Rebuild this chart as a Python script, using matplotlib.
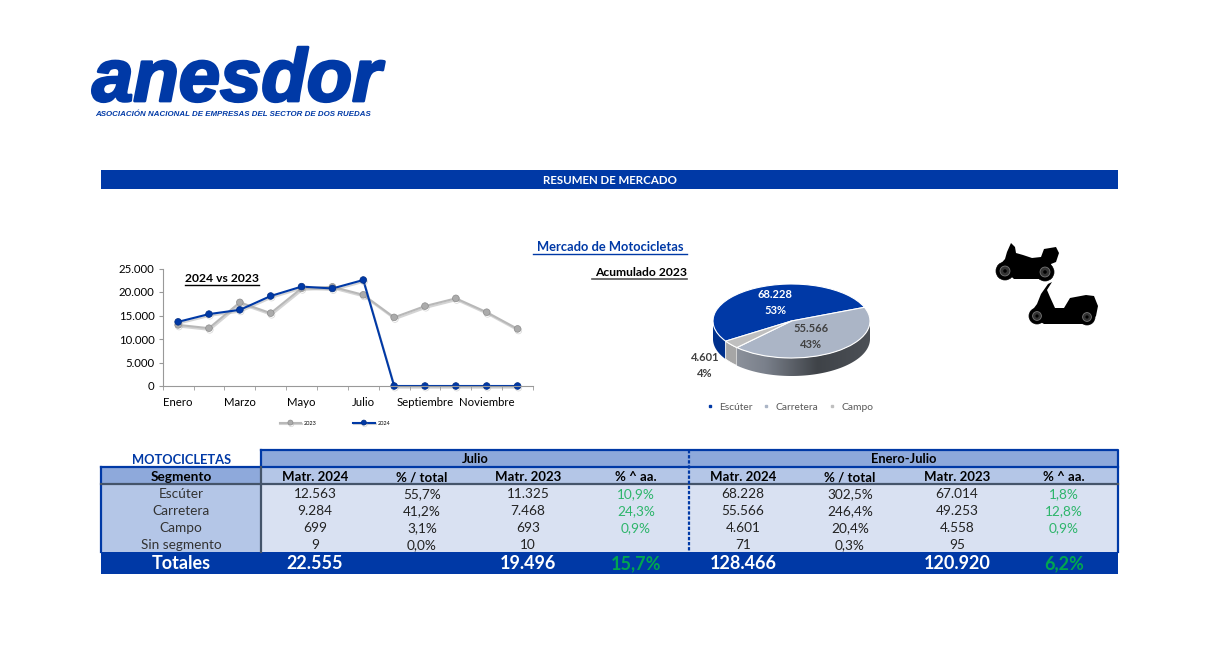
import numpy as np
import matplotlib
matplotlib.use("Agg")
import matplotlib.pyplot as plt
import matplotlib.patheffects as pe
from matplotlib.colors import LinearSegmentedColormap
from matplotlib.patches import Rectangle, Polygon, Circle
from matplotlib.lines import Line2D

plt.rcParams['font.family'] = ['Lato', 'DejaVu Sans']

# datos
meses = ['Enero', 'Febrero', 'Marzo', 'Abril', 'Mayo', 'Junio', 'Julio', 'Agosto',
         'Septiembre', 'Octubre', 'Noviembre', 'Diciembre']
v2023 = [13000, 12300, 17800, 15500, 20800, 21100, 19400, 14600, 17000, 18650, 15700, 12150]
v2024 = [13650, 15300, 16200, 19150, 21150, 20750, 22555, 0, 0, 0, 0, 0]
yticks = [0, 5000, 10000, 15000, 20000, 25000]

segmentos = ['Escúter', 'Carretera', 'Campo']
acumulado = [68228, 55566, 4601]
etiquetas_pie = ['68.228\n53%', '55.566\n43%', '4.601\n4%']

filas = ['Escúter', 'Carretera', 'Campo', 'Sin segmento']
cabecera = ['Matr. 2024', '% / total', 'Matr. 2023', '% ^ aa.'] * 2
mes_m24 = ['12.563', '9.284', '699', '9']
mes_pct = ['55,7%', '41,2%', '3,1%', '0,0%']
mes_m23 = ['11.325', '7.468', '693', '10']
mes_var = ['10,9%', '24,3%', '0,9%', '']
acu_m24 = ['68.228', '55.566', '4.601', '71']
acu_pct = ['302,5%', '246,4%', '20,4%', '0,3%']
acu_m23 = ['67.014', '49.253', '4.558', '95']
acu_var = ['1,8%', '12,8%', '0,9%', '']
totales = ['22.555', '', '19.496', '15,7%', '128.466', '', '120.920', '6,2%']

AZUL = '#0039A6'
W, H = 1225, 646
fig = plt.figure(figsize=(W / 100, H / 100), dpi=100)


def caja(x0, y0, x1, y1):
    return [x0 / W, 1 - y1 / H, (x1 - x0) / W, (y1 - y0) / H]


# lienzo en pixeles
bg = fig.add_axes([0, 0, 1, 1])
bg.set_xlim(0, W)
bg.set_ylim(H, 0)
bg.axis('off')

# logo
bg.text(92, 101, 'anesdor', fontsize=53.5, family='Liberation Sans', weight='bold', style='italic',
        color=AZUL, va='baseline', ha='left',
        path_effects=[pe.withStroke(linewidth=2, foreground=AZUL)])
bg.text(95, 114, 'ASOCIACIÓN NACIONAL DE EMPRESAS DEL SECTOR DE DOS RUEDAS', fontsize=5.7,
        family='Liberation Sans', weight='bold', style='italic', color=AZUL, va='center')

# banda titulo
bg.add_patch(Rectangle((101, 170), 1017, 19, color=AZUL, lw=0))
bg.text(610, 180.5, 'RESUMEN DE MERCADO', color='white', weight='bold', fontsize=8.3, ha='center', va='center')

# titulos
bg.text(610, 247, 'Mercado de Motocicletas', color=AZUL, weight='bold', fontsize=9.3, ha='center', va='center')
bg.plot([533, 687], [253.5, 253.5], color=AZUL, lw=1)
bg.text(687, 272, 'Acumulado 2023', color='black', weight='bold', fontsize=8.7, ha='right', va='center')
bg.plot([592, 687], [278.5, 278.5], color='#555555', lw=1.2)
bg.text(185, 279, '2024 vs 2023', color='black', weight='bold', fontsize=8.7, va='center', zorder=5)
bg.plot([185, 259], [285, 285], color='black', lw=1, zorder=5)

# evolucion mensual
ax = fig.add_axes(caja(162.7, 268.5, 533, 386))
ax.patch.set_alpha(0)
x = np.arange(len(meses))
sombra = [pe.SimpleLineShadow(offset=(0.6, -1.2), shadow_color='#AAAAAA', alpha=0.5), pe.Normal()]
ax.plot(x, v2023, color='#B8B8B8', lw=1.5, marker='o', ms=4.8, mfc='#ABABAB', mec='#8C8C8C', mew=0.5,
        label='2023', path_effects=sombra)
ax.plot(x, v2024, color=AZUL, lw=1.5, marker='o', ms=4.8, mfc=AZUL, mec='#002C80', mew=0.5,
        label='2024', clip_on=False, path_effects=sombra)
ax.set_xlim(-0.5, 11.5)
ax.set_ylim(0, 25000)
ax.set_yticks(yticks)
ax.set_yticklabels([f'{v:,}'.replace(',', '.') for v in yticks], fontsize=8.2)
ax.set_xticks(x[::2])
ax.set_xticklabels(meses[::2], fontsize=8.2)
ax.set_xticks(np.arange(-0.5, 12), minor=True)
ax.tick_params(axis='x', which='major', length=0, pad=8)
ax.tick_params(axis='x', which='minor', length=3, color='#999999')
ax.tick_params(axis='y', length=3, color='#999999', pad=3)
for s in ['top', 'right']:
    ax.spines[s].set_visible(False)
for s in ['left', 'bottom']:
    ax.spines[s].set_color('#999999')
ax.legend(loc='center', bbox_to_anchor=(0.465, -0.315), ncol=2, frameon=False, fontsize=4,
          handlelength=3.9, columnspacing=6.5, handletextpad=0.5, markerscale=0.75)

# tarta en falsa 3D
cx, cy, rx, ry, fondo = 791.5, 321, 78.5, 37, 18
pa = fig.add_axes(caja(cx - 1.3 * rx, cy - 1.3 * ry, cx + 1.3 * rx, cy + 1.3 * ry + fondo))
colores = [AZUL, '#ABB5C6', '#BFBFBF']
inicio = 213
# el sentido es horario, como en la tarta original
angulos = inicio - np.cumsum([0] + acumulado) / sum(acumulado) * 360
d = fondo / ry


def lateral(a0, a1):
    a = np.radians(np.linspace(a0, a1, 80))
    arriba = np.c_[np.cos(a), np.sin(a)]
    abajo = arriba[::-1] - [0, d]
    return np.r_[arriba, abajo]


# lado visible: solo la mitad inferior de la elipse
fin_carretera = angulos[2] + 360
pa.add_patch(Polygon(lateral(180, inicio), color='#00308C', lw=0))
pa.add_patch(Polygon(lateral(inicio, fin_carretera), fc='#A6A6A6', ec='white', lw=0.6))
lado = Polygon(lateral(fin_carretera, 360), fc='none', lw=0)
pa.add_patch(lado)
grad = np.linspace(0, 1, 256).reshape(1, -1)
mapa = LinearSegmentedColormap.from_list('lado', ['#9A9FA8', '#7A808B', '#3F4348', '#4C5056'])
im = pa.imshow(grad, extent=(-1, 1, -1 - d, 0), cmap=mapa, aspect='auto', zorder=1)
im.set_clip_path(lado)
pa.pie(acumulado, colors=colores, startangle=inicio, radius=1, counterclock=False,
       wedgeprops=dict(edgecolor='white', linewidth=0.8, zorder=2))
pa.set_aspect('auto')
pa.set_xlim(-1.3, 1.3)
pa.set_ylim(-1.3 - d, 1.3)
pa.axis('off')

pos_etq = [(775, 302.5, 'white'), (811, 336.5, '#404040'), (705, 365.5, '#404040')]
for (ex, ey, ec), t in zip(pos_etq, etiquetas_pie):
    bg.text(ex, ey, t, color=ec, weight='bold', fontsize=8, ha='center', va='center', linespacing=1.45, zorder=6)
bg.set_zorder(pa.get_zorder() + 1)
bg.patch.set_alpha(0)
ax.set_zorder(bg.get_zorder() - 0.5)

marcas = [Line2D([], [], ls='', marker='s', ms=2, color=c) for c in colores]
pa.legend(marcas, segmentos, loc='center', bbox_to_anchor=(0.475, -0.175), ncol=3, frameon=False, fontsize=7.4,
          labelcolor='#595959', handletextpad=-0.1, columnspacing=0.35)


# siluetas de motos
def moto(ox, oy, cuerpo, ruedas, r):
    bg.add_patch(Polygon([(ox + px, oy + py) for px, py in cuerpo], color='black', lw=0))
    for rx_, ry_ in ruedas:
        bg.add_patch(Circle((ox + rx_, oy + ry_), r, fc='black', ec='black', lw=0.5))
        bg.add_patch(Circle((ox + rx_, oy + ry_), r * 0.55, fc='#333333', ec='#777777', lw=0.6))
        bg.add_patch(Circle((ox + rx_, oy + ry_), r * 0.2, fc='black', lw=0))


moto(994, 243, [(3, 25), (11, 16), (13, 9), (17, 0), (21, 4), (22, 10), (29, 12), (38, 15), (47, 14),
                (50, 6), (62, 4), (65, 10), (62, 19), (57, 21), (59, 30), (50, 36), (20, 36), (12, 29)],
     [(11, 28), (51, 29)], 9)
moto(1026, 282, [(5, 30), (11, 22), (15, 12), (22, 2), (26, 0), (21, 8), (24, 15), (29, 26), (38, 26),
                 (44, 16), (60, 13), (68, 14), (72, 24), (70, 34), (62, 42), (18, 42), (8, 36)],
     [(11, 34), (61, 35)], 8)

# tabla
bg.add_patch(Rectangle((261, 450), 857, 17, color='#8EA9DB', lw=0))
bg.add_patch(Rectangle((261, 467), 857, 17, color='#B4C6E7', lw=0))
bg.add_patch(Rectangle((101, 467), 160, 17, color='#8EA9DB', lw=0))
bg.add_patch(Rectangle((101, 484), 160, 68, color='#B4C6E7', lw=0))
bg.add_patch(Rectangle((261, 484), 857, 68, color='#D9E1F2', lw=0))
bg.add_patch(Rectangle((101, 552), 1017, 22, color=AZUL, lw=0))
bg.plot([261, 1118, 1118], [450, 450, 552], color=AZUL, lw=1.6)
bg.plot([101, 1118], [467, 467], color=AZUL, lw=1.6)
bg.plot([101, 101], [467, 552], color=AZUL, lw=1.6)
bg.plot([261, 261], [450, 467], color=AZUL, lw=1.6)
bg.plot([101, 1118], [484, 484], color='#44546A', lw=1.6)
bg.plot([261, 261], [467, 552], color='#44546A', lw=1.6)
bg.plot([689, 689], [450, 552], color=AZUL, lw=1.6, ls=(0, (1.5, 0.8)))

cols = [315, 422, 528, 636, 743, 850, 957, 1064]
bg.text(182, 464, 'MOTOCICLETAS', color=AZUL, weight='bold', fontsize=9.3, ha='center', va='baseline')
bg.text(475, 463, 'Julio', weight='bold', fontsize=9.3, ha='center', va='baseline')
bg.text(904, 463, 'Enero-Julio', weight='bold', fontsize=9.3, ha='center', va='baseline')
bg.text(181, 481, 'Segmento', weight='bold', fontsize=9.8, ha='center', va='baseline')
for cx_, t in zip(cols, cabecera):
    bg.text(cx_, 481, t, weight='bold', fontsize=9.5, ha='center', va='baseline')

columnas = [mes_m24, mes_pct, mes_m23, mes_var, acu_m24, acu_pct, acu_m23, acu_var]
for i, fila in enumerate(filas):
    yy = 498 + 17 * i
    bg.text(181, yy, fila, color='#333333', fontsize=9.8, ha='center', va='baseline')
    for j, col in enumerate(columnas):
        verde = j in (3, 7)
        bg.text(cols[j], yy, col[i], color='#2DB56B' if verde else '#222222', fontsize=9.8,
                ha='center', va='baseline')

bg.text(181, 569, 'Totales', color='white', weight='bold', fontsize=13, ha='center', va='baseline')
for j, t in enumerate(totales):
    bg.text(cols[j], 569, t, color='#00A650' if j in (3, 7) else 'white', weight='bold', fontsize=13,
            ha='center', va='baseline')

fig.savefig('out.png', dpi=100)
